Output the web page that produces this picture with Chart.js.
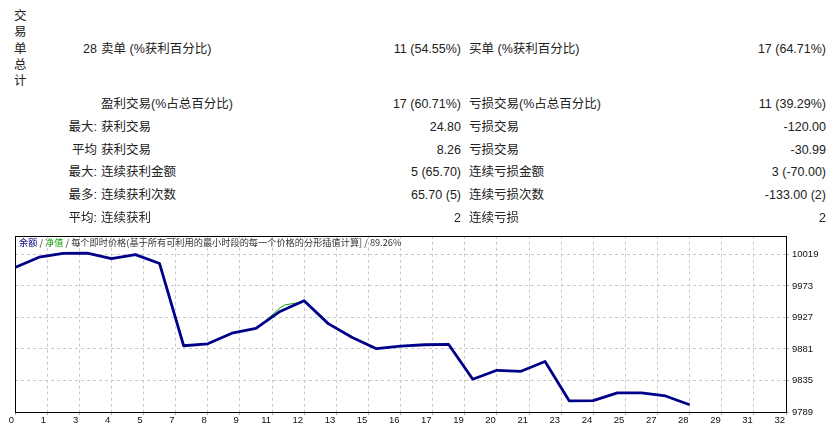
<!DOCTYPE html>
<html>
<head>
<meta charset="utf-8">
<script src="https://cdn.jsdelivr.net/npm/chart.js@4.4.1/dist/chart.umd.min.js"></script>
<style>
html,body{margin:0;padding:0;background:#fff;width:836px;height:434px;overflow:hidden;}
#wrap{position:relative;width:836px;height:434px;}
.t{position:absolute;font-family:"Liberation Sans","Noto Sans CJK SC",sans-serif;font-size:12.5px;color:#222;white-space:nowrap;line-height:16px;height:16px;}
#vt{position:absolute;left:14px;top:7px;width:14px;font-family:"Noto Sans CJK SC",sans-serif;font-size:12.5px;line-height:16.3px;color:#222;}
#cv{position:absolute;left:0;top:228px;}
#leg{position:absolute;left:19px;top:237px;font-family:"Noto Sans CJK SC",sans-serif;font-size:9.2px;line-height:11px;color:#333;white-space:nowrap;}
</style>
</head>
<body>
<div id="wrap">
  <div id="vt">交<br>易<br>单<br>总<br>计</div>
  <canvas id="cv" width="836" height="206"></canvas>
  <div id="leg"><span style="color:#000080">余额</span> / <span style="color:#10a010">净值</span> / 每个即时价格(基于所有可利用的最小时段的每一个价格的分形插值计算] / 89.26%</div>
</div>
<script>
// ---- report table text ----
const rowPrefix = ['28', '', '最大:', '平均', '最大:', '最多:', '平均:'];
const rowLabel1 = ['卖单 (%获利百分比)', '盈利交易(%占总百分比)', '获利交易', '获利交易', '连续获利金额', '连续获利次数', '连续获利'];
const rowValue1 = ['11 (54.55%)', '17 (60.71%)', '24.80', '8.26', '5 (65.70)', '65.70 (5)', '2'];
const rowLabel2 = ['买单 (%获利百分比)', '亏损交易(%占总百分比)', '亏损交易', '亏损交易', '连续亏损金额', '连续亏损次数', '连续亏损'];
const rowValue2 = ['17 (64.71%)', '11 (39.29%)', '-120.00', '-30.99', '3 (-70.00)', '-133.00 (2)', '2'];

// ---- chart data ----
const trades = [0,1,2,3,4,5,6,7,8,9,10,11,12,13,14,15,16,17,18,19,20,21,22,23,24,25,26,27,28];
const balance = [10000,10015,10020.5,10021,10013,10018.7,10005.7,9885.7,9888.6,9904,9911,9935.8,9951.4,9918,9897.8,9881.4,9885.3,9887.2,9887.6,9836.9,9849.9,9848.4,9862.8,9805.3,9805.6,9816.8,9817.0,9812.4,9799.5];
const equityX = [0,1,2,3,4,5,6,7,8,9,10,10.25,11,11.2,11.75,12,13,14,15,16,17,18,19,20,21,22,23,24,25,26,27,28];
const equityY = [10000,10015,10020.5,10021,10013,10018.7,10005.7,9885.7,9888.6,9904,9911,9917.5,9941,9945.3,9948.6,9951.4,9918,9897.8,9881.4,9885.3,9887.2,9887.6,9836.9,9849.9,9848.4,9862.8,9805.3,9805.6,9816.8,9817.0,9812.4,9799.5];
const xTickLabels = ['0','1','3','4','5','7','8','9','11','12','13','15','16','17','19','20','21','23','24','25','27','28','29','31','32'];
const yTickLabels = ['9789','9835','9881','9927','9973','10019'];

// build table
const wrap = document.getElementById('wrap');
const rowY = [48.5, 103.5, 127, 149.5, 172, 195, 218];
function put(text, x, y, alignRight){
  const d = document.createElement('div');
  d.className = 't';
  d.textContent = text;
  d.style.top = (y - 8) + 'px';
  if (alignRight) d.style.right = (836 - x) + 'px'; else d.style.left = x + 'px';
  wrap.appendChild(d);
}
rowY.forEach((y, i) => {
  if (rowPrefix[i]) put(rowPrefix[i], 97, y, true);
  put(rowLabel1[i], 101, y, false);
  put(rowValue1[i], 461, y, true);
  put(rowLabel2[i], 469, y, false);
  put(rowValue2[i], 826, y, true);
});

const frame = {
  id: 'frame',
  afterDraw(chart) {
    const {ctx, chartArea: a} = chart;
    ctx.save();
    ctx.strokeStyle = '#000';
    ctx.lineWidth = 1;
    ctx.strokeRect(Math.round(a.left) + 0.5, Math.round(a.top) + 0.5, Math.round(a.right - a.left), Math.round(a.bottom - a.top));
    ctx.restore();
  }
};

const xMax = Number(xTickLabels[xTickLabels.length - 1]);
new Chart(document.getElementById('cv'), {
  type: 'line',
  data: {
    datasets: [
      {
        label: '净值',
        data: equityX.map((x, i) => ({x: x, y: equityY[i]})),
        borderColor: '#10a010',
        borderWidth: 1,
        pointRadius: 0,
        tension: 0,
        order: 2
      },
      {
        label: '余额',
        data: trades.map((x, i) => ({x: x, y: balance[i]})),
        borderColor: '#000088',
        borderWidth: 2.8,
        pointRadius: 0,
        tension: 0,
        borderJoinStyle: 'round',
        order: 1
      }
    ]
  },
  options: {
    responsive: false,
    animation: false,
    devicePixelRatio: 1,
    layout: {padding: {left: 15, top: 5, right: 0, bottom: 0}},
    plugins: {legend: {display: false}, tooltip: {enabled: false}},
    scales: {
      x: {
        type: 'linear',
        min: 0,
        max: xMax,
        afterFit(s) { s.height = 22; },
        afterBuildTicks(s) {
          s.ticks = xTickLabels.map((l, i) => ({value: i * xMax / (xTickLabels.length - 1)}));
        },
        grid: {color: '#c8c8c8', lineWidth: 1, tickLength: 3, tickColor: '#a8a8a8'},
        border: {display: false, dash: [3, 3]},
        ticks: {
          autoSkip: false,
          maxRotation: 0,
          align: 'end',
          labelOffset: -1,
          padding: 0,
          color: '#111',
          font: {family: '"Liberation Sans", sans-serif', size: 9.5, lineHeight: 1.2},
          callback: (v, i) => xTickLabels[i]
        }
      },
      y: {
        type: 'linear',
        position: 'right',
        min: Number(yTickLabels[0]),
        max: 10046.3,
        afterFit(s) { s.width = 50; },
        afterBuildTicks(s) {
          s.ticks = yTickLabels.map(v => ({value: Number(v)}));
        },
        grid: {color: '#c8c8c8', lineWidth: 1, tickLength: 3, tickColor: '#a8a8a8'},
        border: {display: false, dash: [3, 3]},
        ticks: {
          padding: 3,
          color: '#111',
          font: {family: '"Liberation Sans", sans-serif', size: 9.5, lineHeight: 1},
          callback: (v, i) => yTickLabels[i]
        }
      }
    }
  },
  plugins: [frame]
});
</script>
</body>
</html>
